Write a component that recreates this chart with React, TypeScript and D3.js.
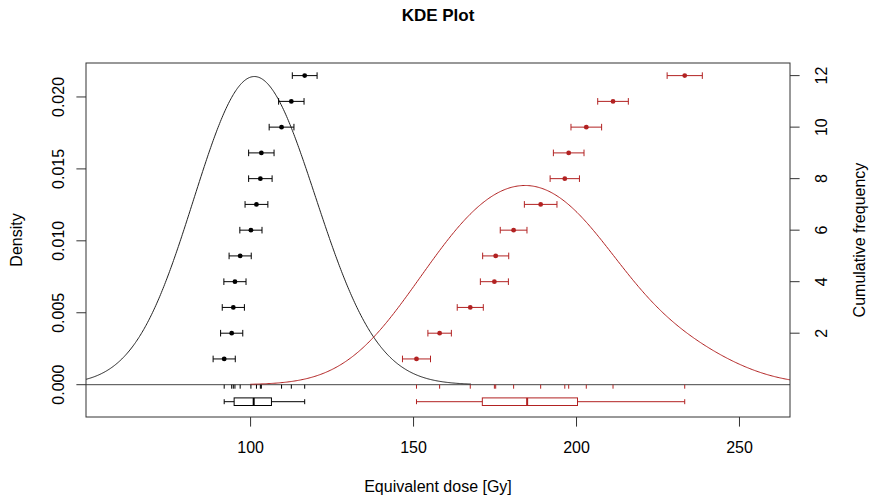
import React from "react";
import * as d3 from "d3";

// ---- data ----
const sample1 = [91.9, 94.2, 94.7, 95.2, 96.8, 100.1, 101.8, 103.0, 103.3, 109.5, 112.5, 116.6];
const error1 = [3.4, 3.4, 3.4, 3.4, 3.4, 3.4, 3.5, 3.6, 3.9, 3.8, 3.9, 3.8];
const sample2 = [150.9, 158.0, 167.4, 174.8, 175.2, 180.7, 189.0, 196.4, 197.6, 203.0, 211.2, 233.2];
const error2 = [4.3, 3.6, 4.0, 4.3, 4.0, 4.1, 5.0, 4.5, 4.7, 4.7, 4.7, 5.4];
const bandwidth = 17;
const xTicks = [100, 150, 200, 250];
const densityTicks = [0, 0.005, 0.01, 0.015, 0.02];
const cumTicks = [2, 4, 6, 8, 10, 12];
const title = "KDE Plot";
const xLabel = "Equivalent dose [Gy]";
const yLabel = "Density";
const y2Label = "Cumulative frequency";

const W = 871, H = 501;
const L = 86, R = 790, T = 63, B = 417;
const FONT = "'Liberation Sans', Arial, sans-serif";
const RED = "#B22222";
const FS = 16;

function kde(values: number[], bw: number) {
  const lo = d3.min(values)! - 3 * bw;
  const hi = d3.max(values)! + 3 * bw;
  const n = 512;
  const pts: [number, number][] = [];
  for (let i = 0; i < n; i++) {
    const x = lo + ((hi - lo) * i) / (n - 1);
    const d = d3.mean(values, (v) => Math.exp(-0.5 * ((x - v) / bw) ** 2) / (bw * Math.sqrt(2 * Math.PI)))!;
    pts.push([x, d]);
  }
  return pts;
}

function fivenum(values: number[]) {
  const s = [...values].sort((a, b) => a - b);
  const n = s.length;
  const n4 = Math.floor((n + 3) / 2) / 2;
  const idx = [1, n4, (n + 1) / 2, n + 1 - n4, n];
  return idx.map((i) => 0.5 * (s[Math.floor(i) - 1] + s[Math.ceil(i) - 1]));
}

export default function App() {
  const x = d3.scaleLinear().domain([49.5, 265.5]).range([L, R]);
  const yD = d3.scaleLinear().domain([-0.002245, 0.02236]).range([B, T]);
  const yC = d3.scaleLinear().domain([-1.254, 12.49]).range([B, T]);
  const base = yD(0);

  const line = d3
    .line<[number, number]>()
    .x((d) => x(d[0]))
    .y((d) => yD(d[1]));

  const series = [
    { vals: sample1, errs: error1, col: "black", curve: "#222" },
    { vals: sample2, errs: error2, col: RED, curve: RED },
  ];

  const boxY = base + 17;

  return (
    <svg width={W} height={H} style={{ display: "block", position: "absolute", left: 0, top: 0 }} fontFamily={FONT}>
      <defs>
        <clipPath id="plotclip">
          <rect x={L} y={T} width={R - L} height={B - T} />
        </clipPath>
      </defs>
      <rect x={0} y={0} width={W} height={H} fill="white" />
      <text x={(L + R) / 2} y={20.5} textAnchor="middle" fontWeight="bold" fontSize={17}>
        {title}
      </text>

      {/* baseline */}
      <line x1={L} x2={R} y1={base} y2={base} stroke="#444" strokeWidth={1} />

      {/* KDE curves */}
      <g clipPath="url(#plotclip)">
        {series.map((s, i) => (
          <path key={i} d={line(kde(s.vals, bandwidth))!} fill="none" stroke={s.curve} strokeWidth={1} />
        ))}
      </g>

      {/* rug, error bars, points, boxplots */}
      {series.map((s, si) => {
        const sorted = s.vals.map((v, i) => ({ v, e: s.errs[i] })).sort((a, b) => a.v - b.v);
        const f = fivenum(s.vals);
        return (
          <g key={si} stroke={s.col} fill={s.col}>
            {s.vals.map((v, i) => (
              <line key={"r" + i} x1={x(v)} x2={x(v)} y1={base} y2={base + 4} strokeWidth={1} />
            ))}
            {sorted.map((d, i) => {
              const cy = yC(i + 1);
              return (
                <g key={"p" + i}>
                  <line x1={x(d.v - d.e)} x2={x(d.v + d.e)} y1={cy} y2={cy} strokeWidth={1} />
                  <line x1={x(d.v - d.e)} x2={x(d.v - d.e)} y1={cy - 3.3} y2={cy + 3.3} strokeWidth={1} />
                  <line x1={x(d.v + d.e)} x2={x(d.v + d.e)} y1={cy - 3.3} y2={cy + 3.3} strokeWidth={1} />
                  <circle cx={x(d.v)} cy={cy} r={2.4} stroke="none" />
                </g>
              );
            })}
            <g fill="none" strokeWidth={1}>
              <line x1={x(f[0])} x2={x(f[1])} y1={boxY} y2={boxY} />
              <line x1={x(f[3])} x2={x(f[4])} y1={boxY} y2={boxY} />
              <line x1={x(f[0])} x2={x(f[0])} y1={boxY - 2.5} y2={boxY + 2.5} />
              <line x1={x(f[4])} x2={x(f[4])} y1={boxY - 2.5} y2={boxY + 2.5} />
              <rect x={x(f[1])} y={boxY - 3.8} width={x(f[3]) - x(f[1])} height={7.6} />
              <line x1={x(f[2])} x2={x(f[2])} y1={boxY - 3.8} y2={boxY + 3.8} strokeWidth={2} />
            </g>
          </g>
        );
      })}

      {/* frame */}
      <rect x={L} y={T} width={R - L} height={B - T} fill="none" stroke="#333" strokeWidth={1} />

      {/* x axis */}
      {xTicks.map((t) => (
        <g key={t}>
          <line x1={x(t)} x2={x(t)} y1={B} y2={B + 9.6} stroke="#333" />
          <text x={x(t)} y={453} textAnchor="middle" fontSize={FS}>
            {t}
          </text>
        </g>
      ))}
      <text x={(L + R) / 2} y={492} textAnchor="middle" fontSize={FS}>
        {xLabel}
      </text>

      {/* left axis */}
      {densityTicks.map((t) => (
        <g key={t}>
          <line x1={L - 9.6} x2={L} y1={yD(t)} y2={yD(t)} stroke="#333" />
          <text transform={`translate(64,${yD(t)}) rotate(-90)`} textAnchor="middle" fontSize={FS}>
            {t.toFixed(3)}
          </text>
        </g>
      ))}
      <text transform={`translate(22,${(T + B) / 2}) rotate(-90)`} textAnchor="middle" fontSize={FS}>
        {yLabel}
      </text>

      {/* right axis */}
      {cumTicks.map((t) => (
        <g key={t}>
          <line x1={R} x2={R + 9.6} y1={yC(t)} y2={yC(t)} stroke="#333" />
          <text transform={`translate(826.5,${yC(t)}) rotate(-90)`} textAnchor="middle" fontSize={FS}>
            {t}
          </text>
        </g>
      ))}
      <text transform={`translate(865,${(T + B) / 2}) rotate(-90)`} textAnchor="middle" fontSize={FS}>
        {y2Label}
      </text>
    </svg>
  );
}
